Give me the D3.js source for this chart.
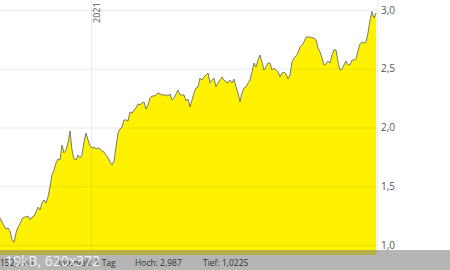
<!DOCTYPE html>
<html>
<head>
<meta charset="utf-8">
<script src="https://cdn.jsdelivr.net/npm/d3@7"></script>
<style>
  body { margin: 0; background: #fff; }
  svg { display: block; font-family: "Open Sans", sans-serif; }
</style>
</head>
<body>
<svg id="chart" width="450" height="270"></svg>
<script>
// daily closes, one value every 2 days starting 2020-10-02
const startDate = '2020-10-02';
const stepDays = 2;
const closes = [
	1.230, 1.196, 1.162, 1.136, 1.145, 1.119, 1.043, 1.0225, 1.102, 1.153,
	1.179, 1.221, 1.238, 1.238, 1.247, 1.213, 1.238, 1.247, 1.281, 1.323,
	1.298, 1.357, 1.383, 1.357, 1.409, 1.494, 1.596, 1.638, 1.698, 1.732,
	1.723, 1.851, 1.783, 1.809, 1.868, 1.970, 1.809, 1.732, 1.723, 1.766,
	1.740, 1.766, 1.877, 1.953, 1.894, 1.843, 1.826, 1.834, 1.817, 1.826,
	1.817, 1.800, 1.791, 1.766, 1.740, 1.706, 1.681, 1.715, 1.834, 1.953,
	1.987, 2.004, 2.064, 2.064, 2.055, 2.132, 2.123, 2.149, 2.166, 2.200,
	2.191, 2.209, 2.217, 2.157, 2.191, 2.251, 2.268, 2.268, 2.277, 2.294,
	2.285, 2.277, 2.277, 2.277, 2.268, 2.285, 2.234, 2.251, 2.285, 2.319,
	2.277, 2.277, 2.277, 2.226, 2.243, 2.174, 2.234, 2.294, 2.336, 2.345,
	2.421, 2.404, 2.430, 2.447, 2.464, 2.379, 2.404, 2.421, 2.345, 2.379,
	2.404, 2.430, 2.404, 2.387, 2.379, 2.404, 2.379, 2.413, 2.345, 2.294,
	2.217, 2.294, 2.336, 2.345, 2.379, 2.404, 2.472, 2.549, 2.515, 2.574,
	2.617, 2.557, 2.489, 2.515, 2.549, 2.549, 2.489, 2.506, 2.489, 2.472,
	2.430, 2.464, 2.472, 2.455, 2.413, 2.447, 2.557, 2.591, 2.609, 2.634,
	2.685, 2.702, 2.728, 2.770, 2.770, 2.770, 2.762, 2.762, 2.745, 2.677,
	2.643, 2.591, 2.532, 2.540, 2.566, 2.549, 2.617, 2.660, 2.660, 2.557,
	2.489, 2.498, 2.532, 2.566, 2.532, 2.532, 2.574, 2.574, 2.583, 2.651,
	2.711, 2.728, 2.719, 2.728, 2.804, 2.915, 2.987, 2.932, 2.974
];
const yTicks = [1.0, 1.5, 2.0, 2.5, 3.0];
const yearTicks = ['2021-01-01'];
const footerItems = ['152,1%IL', 'Intervall: 1 Tag', 'Hoch: 2,987', 'Tief: 1,0225'];

const width = 450;
const height = 270;
const plotRight = 377;
const plotBottom = 255;

const parse = d3.utcParse('%Y-%m-%d');
const t0 = parse(startDate);
const data = closes.map((v, i) => ({
	date: d3.utcDay.offset(t0, i * stepDays),
	value: v,
}));

const de = d3.formatLocale({ decimal: ',', thousands: '.', grouping: [3], currency: ['', '€'] });

const x = d3
	.scaleUtc()
	.domain(d3.extent(data, (d) => d.date))
	.range([0, plotRight - 1]);

const y = d3.scaleLinear().domain([1, 3]).range([245, 10]);

const svg = d3.select('#chart');

// filled area + price line
const area = d3
	.area()
	.x((d) => x(d.date))
	.y0(plotBottom)
	.y1((d) => y(d.value));

const line = d3
	.line()
	.x((d) => x(d.date))
	.y((d) => y(d.value));

svg.append('path')
	.datum(data)
	.attr('fill', '#fff200')
	.attr('d', area);

svg.append('path')
	.datum(data)
	.attr('fill', 'none')
	.attr('stroke', '#7a7a6a')
	.attr('stroke-width', 1)
	.attr('d', line);

// y axis on the right, ticks double as grid lines
const yAxis = svg
	.append('g')
	.attr('transform', `translate(${plotRight},0)`)
	.call(
		d3
			.axisRight(y)
			.tickValues(yTicks)
			.tickSize(-plotRight)
			.tickPadding(4)
			.tickFormat(de.format('.1f'))
	);
yAxis.select('.domain').attr('stroke', 'rgba(0,0,0,0.08)').attr('d', `M0.5,0V${plotBottom}`);
yAxis.selectAll('.tick line').attr('stroke', 'rgba(0,0,0,0.07)');
yAxis.selectAll('.tick text')
	.attr('fill', '#555')
	.style('font-size', '10px')
	.style('font-family', '"Open Sans", sans-serif');

// year grid line
const years = yearTicks.map(parse);
svg.selectAll('.year-line')
	.data(years)
	.join('line')
	.attr('class', 'year-line')
	.attr('x1', (d) => Math.round(x(d)) + 0.5)
	.attr('x2', (d) => Math.round(x(d)) + 0.5)
	.attr('y1', 0)
	.attr('y2', plotBottom)
	.attr('stroke', 'rgba(0,0,0,0.08)');

svg.selectAll('.year-label')
	.data(years)
	.join('text')
	.attr('class', 'year-label')
	.attr('transform', (d) => `translate(${x(d) + 9},23) rotate(-90)`)
	.attr('fill', '#555')
	.style('font-size', '9px')
	.text(d3.utcFormat('%Y'));

// footer bar
svg.append('rect')
	.attr('x', 0)
	.attr('y', 250)
	.attr('width', width)
	.attr('height', height - 250)
	.attr('fill', 'rgba(128,128,128,0.58)');

const footerX = [0, 58, 135, 203];
svg.selectAll('.footer')
	.data(footerItems)
	.join('text')
	.attr('class', 'footer')
	.attr('x', (d, i) => footerX[i])
	.attr('y', 266)
	.attr('fill', '#333')
	.style('font-size', '8.5px')
	.text((d) => d);

// thumbnail watermark
svg.append('text')
	.attr('x', 5)
	.attr('y', 266)
	.attr('fill', 'rgba(255,255,255,0.85)')
	.style('font-size', '14px')
	.text('19kB, 620x372');
</script>
</body>
</html>
